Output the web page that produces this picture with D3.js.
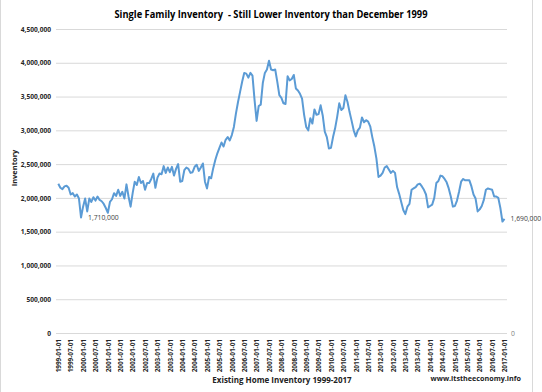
<!DOCTYPE html>
<html><head><meta charset="utf-8">
<script src="https://cdn.jsdelivr.net/npm/d3@7"></script>
<style>
body{margin:0;background:#fff;}
svg{display:block;font-family:"Open Sans","Liberation Sans",sans-serif;}
</style></head>
<body>
<svg id="chart" width="542" height="392"></svg>
<script>
// Monthly inventory (thousands), 1999-01 .. 2017-01
const inv1999 = [2210,2150,2130,2170,2180,2150,2050,2070,2020,2050,1990,1710];
const inv2000 = [1870,1990,1800,1990,1940,2010,1960,2020,1970,1950,1910,1850];
const inv2001 = [1780,1940,1980,2070,2030,2120,2030,2090,1990,2200,2020,1870];
const inv2002 = [2070,2240,2190,2310,2220,2250,2120,2220,2220,2280,2360,2150];
const inv2003 = [2300,2360,2350,2470,2370,2450,2380,2460,2330,2430,2500,2240];
const inv2004 = [2250,2410,2450,2430,2370,2380,2460,2490,2400,2450,2510,2240];
const inv2005 = [2140,2310,2290,2440,2560,2660,2740,2820,2760,2860,2900,2850];
const inv2006 = [2930,3050,3250,3420,3570,3720,3850,3840,3780,3850,3810,3450];
const inv2007 = [3140,3360,3380,3700,3850,3900,4030,3900,3890,3900,3720,3520];
const inv2008 = [3480,3400,3390,3800,3740,3760,3820,3620,3590,3540,3470,3230];
const inv2009 = [3050,3000,3180,3100,3310,3230,3240,3370,3220,2980,2900,2730];
const inv2010 = [2740,2900,3030,3200,3400,3300,3330,3520,3420,3270,3140,3000];
const inv2011 = [2910,3000,3040,3190,3120,3150,3130,3060,2900,2760,2580,2310];
const inv2012 = [2330,2370,2450,2470,2420,2370,2400,2370,2160,2060,1940,1820];
const inv2013 = [1760,1870,1910,2120,2140,2160,2200,2210,2170,2120,2050,1860];
const inv2014 = [1880,1900,2000,2220,2250,2330,2320,2280,2230,2140,2020,1870];
const inv2015 = [1880,1960,2090,2240,2280,2260,2260,2260,2170,2050,1990,1800];
const inv2016 = [1830,1880,1970,2120,2140,2130,2120,2020,2020,2000,1850,1650];
const inv2017 = [1690];
const inventory = [].concat(inv1999,inv2000,inv2001,inv2002,inv2003,inv2004,inv2005,inv2006,
  inv2007,inv2008,inv2009,inv2010,inv2011,inv2012,inv2013,inv2014,inv2015,inv2016,inv2017);

const startYear = 1999;
const monthLabels = inventory.map((d,i)=>{
  const yr = startYear + Math.floor(i/12), m = (i%12)+1;
  return yr + "-" + (m<10?"0":"") + m + "-01";
});
const yTicks = [0,500,1000,1500,2000,2500,3000,3500,4000,4500];
const labelEvery = 6;

const title = "Single Family Inventory  - Still Lower Inventory than December 1999";
const yTitle = "Inventory";
const xTitle = "Existing Home Inventory 1999-2017";
const credit = "www.itstheeconomy.info";

(function(){
const svg = d3.select("#chart");
const pLeft = 58.3, pRight = 504.5, pTop = 29, pBottom = 333;
const x = d3.scaleLinear().domain([0, inventory.length-1]).range([pLeft, pRight]);
const y = d3.scaleLinear().domain([0, 4500]).range([pBottom, pTop]);
const fmt = d3.format(",");

// chart border
svg.append("rect").attr("x",0.5).attr("y",-2).attr("width",532).attr("height",400)
  .attr("fill","none").attr("stroke","#d9d9d9");

// title
svg.append("text").attr("x",271).attr("y",18).attr("text-anchor","middle")
  .style("white-space","pre")
  .attr("font-size",10.5).attr("font-weight","bold").attr("fill","#000")
  .attr("textLength",313).attr("lengthAdjust","spacingAndGlyphs").text(title);

// y axis + gridlines
const yAxis = d3.axisLeft(y).tickValues(yTicks).tickFormat(d=>fmt(d*1000))
  .tickSize(-(507-56)).tickPadding(5);
const gy = svg.append("g").attr("transform","translate(56,0)").call(yAxis);
gy.select(".domain").remove();
gy.selectAll("line").attr("stroke","#d9d9d9").attr("stroke-width",1);
gy.selectAll("text").attr("font-size",6.6).attr("font-weight","bold").attr("fill","#262626")
  .attr("font-family","'Open Sans',sans-serif");

// x axis labels
const xTickIdx = d3.range(0, inventory.length, labelEvery);
const xAxis = d3.axisBottom(x).tickValues(xTickIdx).tickFormat(i=>monthLabels[i]).tickSize(0);
const gx = svg.append("g").attr("transform",`translate(0,${pBottom})`).call(xAxis);
gx.select(".domain").remove();
gx.selectAll("text").attr("font-size",6.4).attr("font-weight","bold").attr("fill","#262626")
  .attr("font-family","'Open Sans',sans-serif")
  .attr("transform","rotate(-90)").attr("text-anchor","end")
  .attr("x",-6).attr("y",0).attr("dy","0.35em");

// axis titles
svg.append("text").attr("transform","translate(17,168) rotate(-90)").attr("text-anchor","middle")
  .attr("font-size",7.5).attr("font-weight","bold").attr("fill","#222").text(yTitle);
svg.append("text").attr("x",282).attr("y",383).attr("text-anchor","middle")
  .attr("font-size",8).attr("font-weight","bold").attr("fill","#222").text(xTitle);
svg.append("text").attr("x",521).attr("y",381).attr("text-anchor","end")
  .attr("font-size",7.2).attr("font-weight","bold").attr("fill","#222").text(credit);

// line
const line = d3.line().x((d,i)=>x(i)).y(d=>y(d)).curve(d3.curveLinear);
svg.append("path").datum(inventory).attr("d",line).attr("fill","none")
  .attr("stroke","#5b9bd5").attr("stroke-width",2).attr("stroke-linejoin","round");

// data labels
const lowIdx = 11, lastIdx = inventory.length-1;
svg.append("text").attr("x",x(lowIdx)+7).attr("y",y(inventory[lowIdx])+2.5)
  .attr("font-size",6.8).attr("fill","#404040").text(fmt(inventory[lowIdx]*1000));
svg.append("text").attr("x",x(lastIdx)+6).attr("y",y(inventory[lastIdx])+2.5)
  .attr("font-size",6.8).attr("fill","#404040").text(fmt(inventory[lastIdx]*1000));
svg.append("text").attr("x",511).attr("y",y(0)+2.5)
  .attr("font-size",6.8).attr("fill","#808080").text("0");
})();
</script>
</body></html>
